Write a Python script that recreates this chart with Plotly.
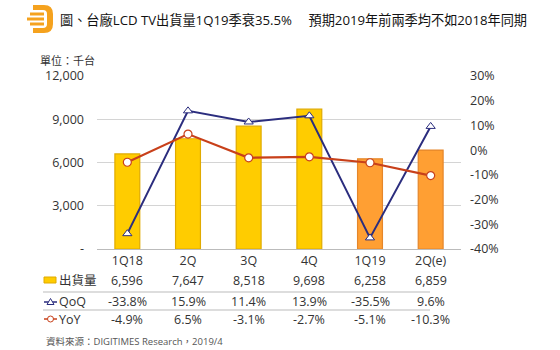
import plotly.graph_objects as go

categories = ["1Q18", "2Q", "3Q", "4Q", "1Q19", "2Q(e)"]
shipments = [6596, 7647, 8518, 9698, 6258, 6859]
qoq = [-33.8, 15.9, 11.4, 13.9, -35.5, 9.6]
yoy = [-4.9, 6.5, -3.1, -2.7, -5.1, -10.3]
shipment_labels = ["6,596", "7,647", "8,518", "9,698", "6,258", "6,859"]
qoq_labels = ["-33.8%", "15.9%", "11.4%", "13.9%", "-35.5%", "9.6%"]
yoy_labels = ["-4.9%", "6.5%", "-3.1%", "-2.7%", "-5.1%", "-10.3%"]
left_ticks = [0, 3000, 6000, 9000, 12000]
left_ticktext = ["-", "3,000", "6,000", "9,000", "12,000"]
right_ticks = [-40, -30, -20, -10, 0, 10, 20, 30]
right_ticktext = ["-40%", "-30%", "-20%", "-10%", "0%", "10%", "20%", "30%"]

title = "圖、台廠LCD TV出貨量1Q19季衰35.5%　 預期2019年前兩季均不如2018年同期"
unit = "單位：千台"
source = "資料來源：DIGITIMES Research，2019/4"

FONT = "Open Sans, Noto Sans CJK TC, sans-serif"
W, H = 560, 350
L, R, T, B = 97, 461, 76, 249

def px(x):
    return (x - L) / (R - L)

def py(y):
    return (B - y) / (B - T)

YELLOW = "#FFCC00"
YELLOW_EDGE = "#E0AA00"
ORANGE = "#FF9F33"
ORANGE_EDGE = "#E5862A"
NAVY = "#2B2D7E"
RED = "#C8401A"
TEXT = "#333333"

bar_colors = [YELLOW] * 4 + [ORANGE] * 2
edge_colors = [YELLOW_EDGE] * 4 + [ORANGE_EDGE] * 2

fig = go.Figure()
fig.add_trace(go.Bar(
    x=categories, y=shipments, width=0.41,
    marker=dict(color=bar_colors, line=dict(color=edge_colors, width=1.2)),
    yaxis="y", showlegend=False, hoverinfo="skip"))
fig.add_trace(go.Scatter(
    x=categories, y=qoq, mode="lines+markers", yaxis="y2",
    line=dict(color=NAVY, width=2),
    marker=dict(symbol="triangle-up", size=8, color="white",
                line=dict(color=NAVY, width=1)),
    showlegend=False))
fig.add_trace(go.Scatter(
    x=categories, y=yoy, mode="lines+markers", yaxis="y2",
    line=dict(color=RED, width=2.2),
    marker=dict(symbol="circle", size=8, color="white",
                line=dict(color=RED, width=1.2)),
    showlegend=False))

annotations = []
annotations.append(dict(text=title, x=px(58), y=py(20), xref="paper", yref="paper",
                        xanchor="left", yanchor="middle", showarrow=False,
                        font=dict(size=13.2, color="#111111", family=FONT)))
annotations.append(dict(text=unit, x=px(38), y=py(60), xref="paper", yref="paper",
                        xanchor="left", yanchor="middle", showarrow=False,
                        font=dict(size=11, color=TEXT, family=FONT)))
annotations.append(dict(text=source, x=px(44), y=py(341), xref="paper", yref="paper",
                        xanchor="left", yanchor="middle", showarrow=False,
                        font=dict(size=9.5, color="#555555", family=FONT)))

rows = [("出貨量", shipment_labels, 280), ("QoQ", qoq_labels, 301), ("YoY", yoy_labels, 319)]
for name, labels, ypix in rows:
    annotations.append(dict(text=name, x=px(57), y=py(ypix), xref="paper", yref="paper",
                            xanchor="left", yanchor="middle", showarrow=False,
                            font=dict(size=12.5, color=TEXT, family=FONT)))
    for c, lab in zip(categories, labels):
        annotations.append(dict(text=lab, x=c, y=py(ypix), xref="x", yref="paper",
                                xanchor="center", yanchor="middle", showarrow=False,
                                font=dict(size=12.5, color=TEXT, family=FONT)))

shapes = []
for ypix in (292, 310):
    shapes.append(dict(type="line", xref="paper", yref="paper",
                       x0=px(43), x1=px(430), y0=py(ypix), y1=py(ypix),
                       line=dict(color="#BBBBBB", width=1)))
shapes.append(dict(type="rect", xref="paper", yref="paper",
                   x0=px(44), x1=px(56), y0=py(283), y1=py(277),
                   fillcolor=YELLOW, line=dict(color=YELLOW_EDGE, width=1)))
shapes.append(dict(type="line", xref="paper", yref="paper",
                   x0=px(44), x1=px(57), y0=py(302), y1=py(302),
                   line=dict(color=NAVY, width=1.5)))
tx, ty = 50.5, 302
shapes.append(dict(type="path", xref="paper", yref="paper",
                   path=f"M {px(tx-3.5)} {py(ty+2.5)} L {px(tx+3.5)} {py(ty+2.5)} L {px(tx)} {py(ty-3.5)} Z",
                   fillcolor="white", line=dict(color=NAVY, width=1)))
shapes.append(dict(type="line", xref="paper", yref="paper",
                   x0=px(44), x1=px(57), y0=py(319), y1=py(319),
                   line=dict(color=RED, width=1.5)))
shapes.append(dict(type="circle", xref="paper", yref="paper",
                   x0=px(47.5), x1=px(53.5), y0=py(322), y1=py(316),
                   fillcolor="white", line=dict(color=RED, width=1)))

LOGO = "#F5A21E"
shapes.append(dict(type="path", xref="paper", yref="paper",
                   path=(f"M {px(33)} {py(5)} L {px(44)} {py(5)} "
                         f"Q {px(53)} {py(5)} {px(53)} {py(14)} L {px(53)} {py(24)} "
                         f"Q {px(53)} {py(33)} {px(44)} {py(33)} L {px(33)} {py(33)} "
                         f"L {px(33)} {py(28)} L {px(43)} {py(28)} "
                         f"Q {px(47)} {py(28)} {px(47)} {py(24)} L {px(47)} {py(14)} "
                         f"Q {px(47)} {py(10)} {px(43)} {py(10)} L {px(33)} {py(10)} Z"),
                   fillcolor=LOGO, line=dict(width=0)))
for x0, y0 in ((30, 12.5), (27, 17.5), (30, 22.5)):
    shapes.append(dict(type="rect", xref="paper", yref="paper",
                       x0=px(x0), x1=px(44), y0=py(y0 + 3), y1=py(y0),
                       fillcolor=LOGO, line=dict(width=0)))

fig.update_layout(
    width=W, height=H,
    margin=dict(l=L, r=W - R, t=T, b=H - B),
    paper_bgcolor="white", plot_bgcolor="white",
    font=dict(family=FONT, size=12, color=TEXT),
    bargap=0.59,
    xaxis=dict(type="category", showgrid=False, showline=True, linecolor="#BBBBBB",
               ticks="", tickfont=dict(size=12.5, color=TEXT)),
    yaxis=dict(range=[0, 12000], tickvals=left_ticks, ticktext=left_ticktext,
               showgrid=True, gridcolor="#D4D4D4", gridwidth=1, zeroline=False,
               showline=False, ticks="", ticklabelstandoff=12,
               tickfont=dict(size=12.5, color=TEXT)),
    yaxis2=dict(range=[-40, 30], tickvals=right_ticks, ticktext=right_ticktext,
                overlaying="y", side="right",
                showgrid=False, zeroline=False, showline=False, ticks="",
                ticklabelstandoff=8, tickfont=dict(size=12.5, color=TEXT)),
    annotations=annotations, shapes=shapes,
)

fig.write_html("out.html")
